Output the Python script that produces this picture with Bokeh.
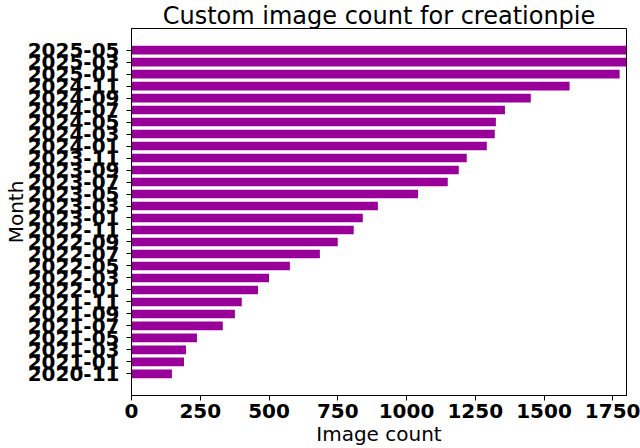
from bokeh.plotting import figure
from bokeh.models import FactorRange, Range1d, FixedTicker
from bokeh.embed import file_html
from bokeh.resources import INLINE

months = ["2020-11", "2021-01", "2021-03", "2021-05", "2021-07", "2021-09", "2021-11",
          "2022-01", "2022-03", "2022-05", "2022-07", "2022-09", "2022-11",
          "2023-01", "2023-03", "2023-05", "2023-07", "2023-09", "2023-11",
          "2024-01", "2024-03", "2024-05", "2024-07", "2024-09", "2024-11",
          "2025-01", "2025-03", "2025-05"]
counts = [147, 191, 198, 238, 332, 376, 401,
          460, 500, 576, 685, 750, 808,
          841, 896, 1042, 1150, 1190, 1219,
          1292, 1321, 1325, 1358, 1452, 1593,
          1775, 1815, 1840]
x_ticks = [0, 250, 500, 750, 1000, 1250, 1500, 1750]

title_text = "Custom image count for creationpie"
x_label = "Image count"
y_label = "Month"

FONT = "DejaVu Sans"
BAR_COLOR = "#990099"

p = figure(width=640, height=448, output_backend="svg", toolbar_location=None,
           y_range=FactorRange(factors=months, range_padding=1.3, range_padding_units="absolute"),
           x_range=Range1d(0, 1800),
           title=title_text, x_axis_label=x_label, y_axis_label=y_label,
           min_border_left=130, min_border_right=14, min_border_top=0, min_border_bottom=0)

p.hbar(y=months, right=counts, left=0, height=0.72, fill_color=BAR_COLOR, line_color=None)

p.title.text_font = FONT
p.title.text_font_size = "24px"
p.title.text_font_style = "normal"
p.title.align = "center"
p.title.text_color = "black"
p.title.standoff = -2
p.title.offset = 0

p.xaxis.ticker = FixedTicker(ticks=x_ticks)
for ax in (p.xaxis[0], p.yaxis[0]):
    ax.major_label_text_font = FONT
    ax.major_label_text_font_size = "20px"
    ax.major_label_text_font_style = "bold"
    ax.major_label_text_color = "black"
    ax.axis_label_text_font = FONT
    ax.axis_label_text_font_size = "20px"
    ax.axis_label_text_font_style = "normal"
    ax.axis_label_text_color = "black"
    ax.axis_line_color = "black"
    ax.major_tick_line_color = "black"
    ax.minor_tick_line_color = None
    ax.major_tick_in = 0
    ax.major_tick_out = 5
p.xaxis[0].major_label_standoff = 3
p.xaxis[0].axis_label_standoff = 1
p.yaxis[0].major_label_standoff = 7
p.yaxis[0].axis_label_standoff = -3

p.xgrid.grid_line_color = None
p.ygrid.grid_line_color = None
p.outline_line_color = "black"
p.outline_line_width = 1
p.background_fill_color = "white"
p.border_fill_color = "white"

open("out.html", "w").write(file_html(p, INLINE))
